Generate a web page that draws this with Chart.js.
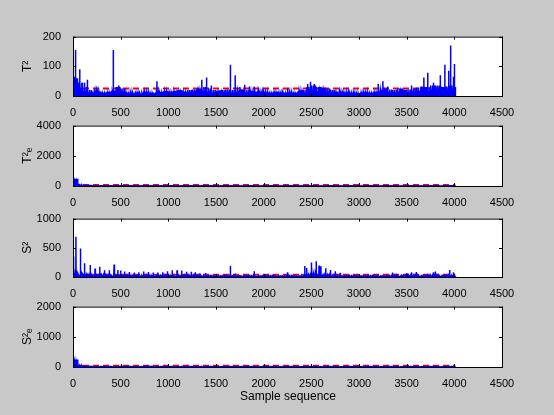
<!DOCTYPE html><html><head><script src="https://cdn.jsdelivr.net/npm/chart.js@4"></script>
<style>body{margin:0;background:#c8c8c8;width:554px;height:415px;position:relative;overflow:hidden;font-family:"Liberation Sans",Arial}canvas{position:absolute;left:0}#xl{position:absolute;top:389px;left:0;width:576px;text-align:center;font-size:12px}</style></head><body>
<canvas id="c1"></canvas><canvas id="c2"></canvas><canvas id="c3"></canvas><canvas id="c4"></canvas><div id="xl">Sample sequence</div>
<script>
const xTicks=[0,500,1000,1500,2000,2500,3000,3500,4000,4500];
// baseline values every 50 samples (0..4000)
const t2Base=[60,45,30,20,15,15,12,14,18,30,25,12,10,10,8,10,12,10,14,18,15,18,20,15,20,22,25,30,25,20,18,20,22,20,18,22,20,18,15,12,10,12,15,10,12,10,12,15,20,30,35,30,28,25,20,15,12,10,8,8,10,10,12,15,20,25,22,20,25,20,22,25,28,30,30,35,35,30,32,35,30];
const t2SpikeX=[10,25,45,70,95,120,150,420,480,880,1350,1400,1450,1650,1700,1750,1800,1850,1900,2250,2460,2490,2530,2600,3200,3250,3300,3550,3650,3680,3720,3780,3850,3900,3940,3960,3990,4000,4010];
const t2SpikeY=[65,155,50,90,45,45,55,155,35,50,55,62,35,105,70,30,38,32,32,25,40,48,40,28,40,50,32,35,32,62,78,45,70,105,85,170,65,108,30];
const t2Lim=25;
const te2Base=[480,60,30,20,15,10,10,8,8,8,8,8,8,8,8,8,8,8,8,8,8,8,8,8,8,8,8,8,8,8,8,8,8,8,8,8,8,8,8,8,8,8,8,8,8,8,8,8,8,8,8,8,8,8,8,8,8,8,8,8,8,8,8,8,8,8,8,8,8,8,8,8,8,8,8,8,8,8,8,8,8];
const te2SpikeX=[5,20];const te2SpikeY=[500,200];const te2Lim=60;
const s2Base=[60,40,30,25,25,25,25,20,20,20,20,20,20,20,20,20,20,20,20,20,20,20,20,20,20,20,20,15,15,15,15,15,15,15,15,15,15,15,15,15,15,15,15,15,15,15,15,15,15,30,50,40,30,25,20,20,15,15,15,15,15,15,15,15,15,15,15,20,20,20,20,20,20,20,20,20,20,20,20,20,20];
const s2SpikeX=[5,30,75,120,180,230,280,330,380,430,470,500,540,590,640,690,740,790,840,890,940,990,1040,1090,1140,1190,1240,1280,1330,1390,1650,1700,1900,2250,2400,2430,2450,2500,2550,2580,2600,2650,2700,2750,2800,3350,3500,3550,3600,3780,3800,3950,3990];
const s2SpikeY=[350,690,490,235,205,145,175,115,115,215,120,110,95,85,75,80,95,85,75,75,80,100,115,115,110,90,90,80,65,70,190,60,100,80,55,190,155,250,270,195,185,150,120,100,70,75,70,80,85,80,95,120,80];
const s2Lim=40;
const se2Base=[250,40,20,15,15,10,10,10,10,10,10,10,10,10,10,15,15,10,10,10,10,10,10,10,10,10,10,10,10,10,10,10,10,10,10,15,15,10,10,10,10,10,10,10,10,10,10,10,10,10,10,10,10,10,10,10,10,10,10,10,10,10,10,10,10,10,10,10,10,10,10,10,10,10,10,10,10,10,10,10,10];
const se2SpikeX=[5,15];const se2SpikeY=[300,120];const se2Lim=40;

function pts(base,sx,sy){const a=[];const sp=sx.map((x,i)=>({x,y:sy[i]}));
 base.forEach((b,i)=>{const x=i*50;if(x>4010)return;
  for(let k=0;k<5;k++){const xx=x+k*10;if(xx>4010)break;a.push({x:xx,y:0});a.push({x:xx+3,y:b*(k%2?0.6:1)});}});
 sp.forEach(p=>{a.push({x:p.x,y:0});a.push({x:p.x+1,y:p.y});a.push({x:p.x+2,y:0});});
 a.sort((p,q)=>p.x-q.x);return a;}
const frame={id:'frame',afterDraw(c){const a=c.chartArea,g=c.ctx;g.save();g.strokeStyle='#000';g.lineWidth=1;g.strokeRect(a.left+.5,a.top+.5,a.right-a.left,a.bottom-a.top);
 g.beginPath();const xs=c.scales.x,ys=c.scales.y;xTicks.forEach(t=>{const p=Math.round(xs.getPixelForValue(t))+.5;g.moveTo(p,a.bottom);g.lineTo(p,a.bottom-3);g.moveTo(p,a.top);g.lineTo(p,a.top+3);});
 ys.ticks.forEach(t=>{const p=Math.round(ys.getPixelForValue(t.value))+.5;g.moveTo(a.left,p);g.lineTo(a.left+3,p);g.moveTo(a.right,p);g.lineTo(a.right-3,p);});g.stroke();g.restore();},
 beforeDraw(c){const a=c.chartArea;c.ctx.fillStyle='#fff';c.ctx.fillRect(a.left,a.top,a.right-a.left,a.bottom-a.top);}};
function mk(id,top,h,base,sx,sy,lim,ymax,step,lab){
 const cv=document.getElementById(id);cv.style.top=(top-6)+'px';cv.width=554;cv.height=h+6+22;cv.style.width='554px';cv.style.height=(h+28)+'px';
 new Chart(cv,{type:'line',data:{datasets:[{data:pts(base,sx,sy),borderColor:'#0000ff',borderWidth:1.5,pointRadius:0,tension:0},
  {data:[{x:0,y:lim},{x:4010,y:lim}],borderColor:'#ff0000',borderWidth:2,borderDash:[6,4],pointRadius:0}]},
 plugins:[frame],options:{animation:false,responsive:false,events:[],layout:{padding:{top:6,right:52,left:20,bottom:0}},plugins:{legend:{display:false},tooltip:{enabled:false}},
 scales:{x:{type:'linear',min:0,max:4500,afterBuildTicks(s){s.ticks=xTicks.map(v=>({value:v}));},afterFit(s){s.height=22;},grid:{display:false},border:{display:false},ticks:{color:'#000',font:{size:11,family:'Liberation Sans'},maxRotation:0,padding:2,callback:v=>String(v)}},
  y:{min:0,max:ymax,ticks:{stepSize:step,color:'#000',font:{size:11,family:'Liberation Sans'},padding:4,callback:v=>String(v)},afterFit(s){s.width=53;},grid:{display:false},border:{display:false},title:{display:true,text:lab,color:'#000',font:{size:12,family:'Liberation Sans'},padding:{top:0,bottom:6}}}}}});}
mk('c1',32,64,t2Base,t2SpikeX,t2SpikeY,t2Lim,200,100,'T²');
mk('c2',121,65,te2Base,te2SpikeX,te2SpikeY,te2Lim,4000,2000,'T²ₑ');
mk('c3',214,63,s2Base,s2SpikeX,s2SpikeY,s2Lim,1000,500,'S²');
mk('c4',302,65,se2Base,se2SpikeX,se2SpikeY,se2Lim,2000,1000,'S²ₑ');
</script></body></html>
